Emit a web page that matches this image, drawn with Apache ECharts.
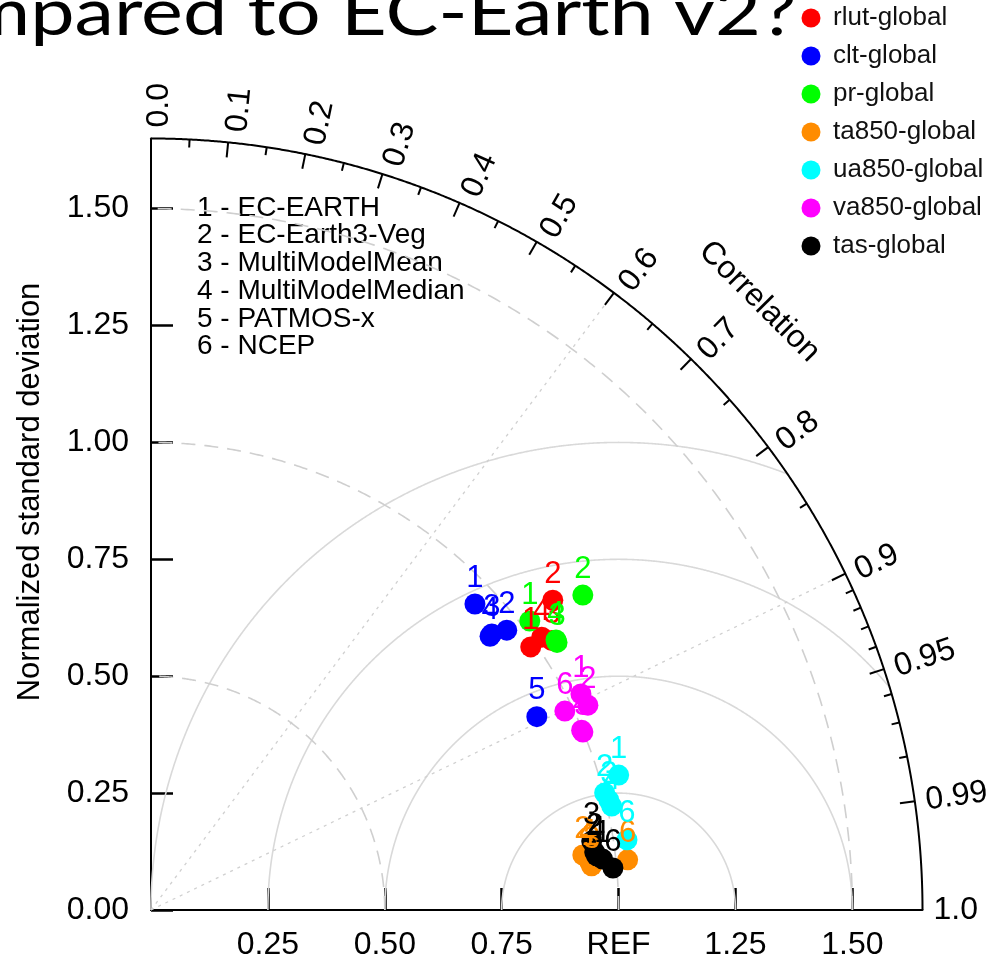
<!DOCTYPE html>
<html><head><meta charset="utf-8">
<script src="https://cdn.jsdelivr.net/npm/echarts@6/dist/echarts.min.js"></script>
<style>html,body{margin:0;padding:0;background:#fff}#c{width:991px;height:968px}</style>
</head><body><div id="c"></div>
<script>
// ---- data ----
const variables = ['rlut-global','clt-global','pr-global','ta850-global','ua850-global','va850-global','tas-global'];
const varColors = ['#ff0000','#0000ff','#00ff00','#ff8c00','#00ffff','#ff00ff','#000000'];
const modelNames = ['1 - EC-EARTH','2 - EC-Earth3-Veg','3 - MultiModelMean','4 - MultiModelMedian','5 - PATMOS-x','6 - NCEP'];

const rlutModels = [1,2,4,3];
const rlutStd    = [0.988,1.085,1.019,1.033];
const rlutCorr   = [0.822,0.792,0.820,0.830];

const cltModels  = [4,1,2,3,5];
const cltStd     = [0.932,0.953,0.968,0.938,0.923];
const cltCorr    = [0.778,0.727,0.786,0.777,0.894];

const prModels   = [1,2,4,3];
const prStd      = [1.019,1.143,1.041,1.040];
const prCorr     = [0.795,0.808,0.832,0.835];

const ta850Models = [1,3,4,2,6];
const ta850Std    = [0.944,0.947,0.941,0.931,1.025];
const ta850Corr   = [0.9941,0.995,0.993,0.992,0.9945];

const ua850Models = [1,2,3,4,6];
const ua850Std    = [1.041,1.002,1.007,1.010,1.029];
const ua850Corr   = [0.9608,0.9683,0.9724,0.9755,0.9893];

const va850Models = [3,4,6,2,1];
const va850Std    = [0.999,0.998,0.982,1.032,1.029];
const va850Corr   = [0.9246,0.9228,0.9013,0.9054,0.8936];

const tasModels = [2,4,3,1,6];
const tasStd    = [0.957,0.960,0.954,0.972,0.992];
const tasCorr   = [0.9916,0.9927,0.9880,0.9937,0.9959];

const xTickVals = [0.25,0.5,0.75,1.0,1.25,1.5];
const yTickVals = [0,0.25,0.5,0.75,1.0,1.25,1.5];
const corrMajor = [0.1,0.2,0.3,0.4,0.5,0.6,0.7,0.8,0.9,0.95,0.99];
const corrMinor = [0.05,0.15,0.25,0.35,0.45,0.55,0.65,0.75,0.85,0.91,0.92,0.93,0.94,0.96,0.97,0.98];
const corrLabels = ['0.0','0.1','0.2','0.3','0.4','0.5','0.6','0.7','0.8','0.9','0.95','0.99','1.0'];
const corrLabelVals = [0.0,0.1,0.2,0.3,0.4,0.5,0.6,0.7,0.8,0.9,0.95,0.99,1.0];
const rmsRadii = [0.25,0.5,0.75,1.0];
const stdArcs = [0.5,1.0,1.5];
const corrRays = [0.6,0.9];
const maxR = 1.65;

const allModels = [rlutModels,cltModels,prModels,ta850Models,ua850Models,va850Models,tasModels];
const allStd = [rlutStd,cltStd,prStd,ta850Std,ua850Std,va850Std,tasStd];
const allCorr = [rlutCorr,cltCorr,prCorr,ta850Corr,ua850Corr,va850Corr,tasCorr];

const FONT = 'Liberation Sans, Arial, sans-serif';

function toXY(s, c) { const a = Math.acos(c); return [s*Math.cos(a), s*Math.sin(a)]; }

const scatterSeries = variables.map((name, vi) => ({
  name: name,
  type: 'scatter',
  z: 5,
  symbol: 'circle',
  symbolSize: 21,
  itemStyle: { color: varColors[vi], opacity: 1 },
  label: {
    show: true, position: 'top', distance: 0,
    formatter: p => String(p.data[2]),
    color: varColors[vi], fontSize: 31, fontFamily: FONT
  },
  emphasis: { disabled: true },
  data: allModels[vi].map((m, i) => { const xy = toXY(allStd[vi][i], allCorr[vi][i]); return [xy[0], xy[1], m]; })
}));

function renderFrame(params, api) {
  const children = [];
  const C = (x, y) => api.coord([x, y]);
  const P = (r, a) => api.coord([r*Math.cos(a), r*Math.sin(a)]);
  const pxPerUnit = api.size([1, 0])[0];
  // RMS circles around REF
  rmsRadii.forEach(r => {
    let cur = [];
    const runs = [];
    const N = 1440;
    for (let i = 0; i <= N; i++) {
      const t = Math.PI * i / N;
      const x = 1 + r*Math.cos(t), y = r*Math.sin(t);
      if (x >= 0 && x*x + y*y <= maxR*maxR) cur.push(C(x, y));
      else { if (cur.length > 1) runs.push(cur); cur = []; }
    }
    if (cur.length > 1) runs.push(cur);
    runs.forEach(pts => children.push({ type: 'polyline', shape: { points: pts }, style: { stroke: '#d9d9d9', lineWidth: 1.6, fill: null } }));
  });
  // std dev dashed arcs
  stdArcs.forEach(r => {
    const pts = [];
    for (let i = 0; i <= 360; i++) pts.push(P(r, Math.PI/2 * i/360));
    children.push({ type: 'polyline', shape: { points: pts }, style: { stroke: '#cfcfcf', lineWidth: 1.6, lineDash: [14, 9], fill: null } });
  });
  // correlation rays
  corrRays.forEach(c => {
    const a = Math.acos(c);
    const p0 = C(0, 0), p1 = P(maxR, a);
    children.push({ type: 'line', shape: { x1: p0[0], y1: p0[1], x2: p1[0], y2: p1[1] }, style: { stroke: '#d0d0d0', lineWidth: 1.3, lineDash: [3, 5] } });
  });
  // outer arc
  const arc = [];
  for (let i = 0; i <= 720; i++) arc.push(P(maxR, Math.PI/2 * i/720));
  children.push({ type: 'polyline', shape: { points: arc }, style: { stroke: '#000', lineWidth: 2, fill: null } });
  // ticks
  const tick = (c, len) => {
    const a = Math.acos(c);
    const p0 = P(maxR, a), p1 = P(maxR - len/pxPerUnit, a);
    children.push({ type: 'line', shape: { x1: p0[0], y1: p0[1], x2: p1[0], y2: p1[1] }, style: { stroke: '#000', lineWidth: 2 } });
  };
  corrMajor.forEach(c => tick(c, 15));
  corrMinor.forEach(c => tick(c, 8));
  // corr labels
  corrLabelVals.forEach((c, i) => {
    const a = Math.acos(c);
    const p = P(maxR + 11/pxPerUnit, a);
    const off = 8 * Math.sin(a);
    children.push({ type: 'text', x: p[0] + off*Math.sin(a), y: p[1] + off*Math.cos(a), rotation: a,
      style: { text: corrLabels[i], fontSize: 32, fontFamily: FONT, fill: '#000', align: 'left', verticalAlign: 'middle' } });
  });
  // Correlation title
  const pc = P(1.84, Math.PI/4);
  children.push({ type: 'text', x: pc[0], y: pc[1], rotation: -Math.PI/4,
    style: { text: 'Correlation', fontSize: 32, fontFamily: FONT, fill: '#000', align: 'center', verticalAlign: 'middle' } });
  return { type: 'group', children: children };
}

const chart = echarts.init(document.getElementById('c'), null, { renderer: 'canvas' });
chart.setOption({
  animation: false,
  backgroundColor: '#fff',
  grid: { left: 151, top: 138.5, width: 771.5, height: 771.5, containLabel: false },
  xAxis: {
    type: 'value', min: 0, max: maxR,
    axisLine: { show: true, onZero: false, lineStyle: { color: '#000', width: 2 } },
    axisTick: { show: true, inside: true, length: 22, customValues: xTickVals, lineStyle: { color: '#000', width: 2.5 } },
    axisLabel: { show: true, customValues: xTickVals, margin: 19, fontSize: 32, fontFamily: FONT, color: '#000',
      formatter: v => Math.abs(v - 1) < 1e-9 ? 'REF' : v.toFixed(2) },
    splitLine: { show: false }
  },
  yAxis: {
    type: 'value', min: 0, max: maxR,
    axisLine: { show: true, onZero: false, lineStyle: { color: '#000', width: 2 } },
    axisTick: { show: true, inside: true, length: 22, customValues: yTickVals, lineStyle: { color: '#000', width: 2.5 } },
    axisLabel: { show: true, customValues: yTickVals, margin: 22, fontSize: 32, fontFamily: FONT, color: '#000',
      formatter: v => v.toFixed(2) },
    splitLine: { show: false }
  },
  legend: {
    orient: 'vertical', left: 796.5, top: 0, itemWidth: 19, itemHeight: 19, itemGap: 12, icon: 'circle',
    data: variables,
    textStyle: { fontSize: 26, fontFamily: FONT, color: '#111', padding: [0, 0, 0, 7.5] },
    selectedMode: false
  },
  graphic: [
    { type: 'text', x: -35, y: 14, scaleX: 1.2, style: { text: 'mpared to EC-Earth v2?', fontSize: 66, fontFamily: 'Lato, Open Sans, sans-serif', fill: '#000', verticalAlign: 'middle' } },
    { type: 'text', x: 30, y: 492, rotation: Math.PI/2, style: { text: 'Normalized standard deviation', fontSize: 31, fontFamily: FONT, fill: '#000', align: 'center', verticalAlign: 'middle' } }
  ].concat(modelNames.map((t, i) => ({
    type: 'text', x: 197, y: 208 + i*27.7, style: { text: t, fontSize: 28, fontFamily: FONT, fill: '#000', verticalAlign: 'middle' }
  }))),
  series: [{
    type: 'custom', z: 1, silent: true, clip: false,
    renderItem: renderFrame, data: [[0, 0]]
  }].concat(scatterSeries)
});
</script></body></html>
